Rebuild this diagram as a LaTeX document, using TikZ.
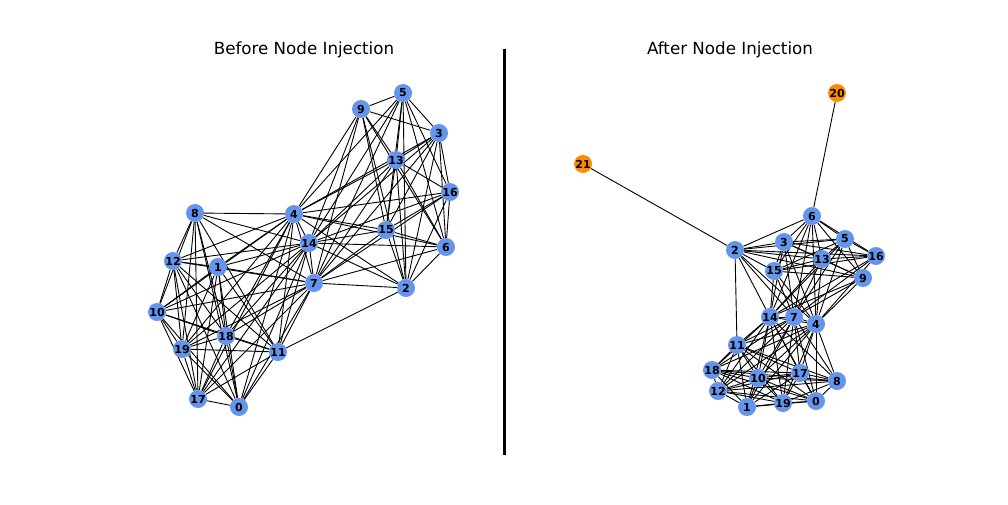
\documentclass[tikz,border=0pt]{standalone}
\usepackage{fontspec}
\setmainfont{DejaVu Sans}
\usetikzlibrary{backgrounds}

\definecolor{vertblue}{RGB}{100,149,237}
\definecolor{injorange}{RGB}{255,140,0}

\tikzset{
  vert/.style={circle, fill=vertblue, inner sep=0pt, minimum size=18pt,
    font=\fontsize{11}{12}\selectfont\bfseries},
  inj/.style={vert, fill=injorange},
  link/.style={line width=0.9pt},
  ttl/.style={font=\fontsize{16.7}{20}\selectfont}
}

% edges shared by both graphs
\newcommand\graphedges{8/12,8/10,8/19,8/17,8/18,8/0,8/11,
  12/10,12/19,12/17,12/18,12/1,12/11,12/0,
  1/18,1/0,1/11,1/19,1/10,1/17,
  10/19,10/17,10/0,10/18,10/11,
  18/11,18/0,18/17,18/19,19/11,19/17,19/0,17/0,17/11,0/11,
  8/4,8/14,8/7,12/4,12/14,12/7,1/4,1/7,1/14,10/4,10/14,10/7,
  18/4,18/14,18/7,19/4,19/14,19/7,17/4,17/14,17/7,0/4,0/14,0/7,
  11/4,11/14,11/7,11/2,4/14,4/7,14/7,
  4/15,4/6,4/16,4/13,4/3,4/9,4/5,4/2,
  14/15,14/6,14/13,14/3,14/16,14/9,14/5,14/2,
  7/2,7/15,7/13,7/16,7/3,7/9,7/5,7/6,
  5/9,5/3,5/13,5/16,5/15,5/6,5/2,9/3,9/13,9/15,9/6,9/2,
  3/13,3/16,3/6,3/15,3/2,13/16,13/15,13/6,13/2,
  16/15,16/6,16/2,15/6,15/2,6/2}

\begin{document}
\begin{tikzpicture}[x=1pt, y=-1pt]
  \useasboundingbox (0,0) rectangle (1008,504);

  % titles and divider
  \node[ttl] (ltitle) at (304,50) {Before Node Injection};
  \node[ttl] (rtitle) at (730,50) {After Node Injection};
  \draw[line width=3pt] (504,49) -- (504,455);

  % before
  \foreach \n/\px/\py in {5/403/93, 9/361/109, 3/439/133, 13/396/160,
      16/450/192, 8/195/213, 4/294/214, 15/386/230, 14/309/243, 6/446/247,
      12/173/261, 1/218/267, 7/314/283, 2/406/288, 10/157/312, 18/226/336,
      19/182/349, 11/278/352, 17/198/399, 0/239/407}
    \node[vert] (L\n) at (\px,\py) {\n};

  % after
  \foreach \n/\px/\py in {6/812/216, 5/845/239, 3/784/242, 2/735/250,
      16/876/256, 13/822/259, 15/774/271, 9/863/278, 14/770/317, 7/794/317,
      4/816/324, 11/737/345, 18/712/370, 17/800/373, 10/758/378, 8/837/381,
      12/718/391, 0/816/401, 19/783/403, 1/747/407}
    \node[vert] (R\n) at (\px,\py) {\n};
  \node[inj] (R20) at (837,93) {20};
  \node[inj] (R21) at (583,164) {21};

  \begin{pgfonlayer}{background}
    \foreach \a/\b in \graphedges {
      \draw[link] (L\a) -- (L\b);
      \draw[link] (R\a) -- (R\b);
    }
    \draw[link] (R20) -- (R6);
    \draw[link] (R21) -- (R2);
  \end{pgfonlayer}
\end{tikzpicture}
\end{document}
